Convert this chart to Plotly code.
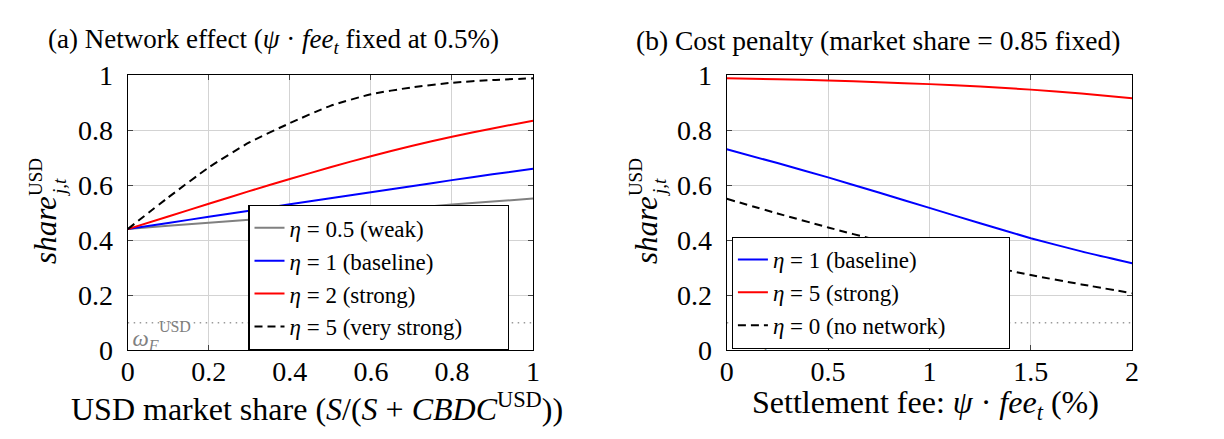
import plotly.graph_objects as go

# ---------------- data ----------------
market_share = [0.0, 0.1, 0.2, 0.3, 0.4, 0.5, 0.6, 0.7, 0.8, 0.9, 1.0]
share_eta05 = [0.440, 0.452, 0.463, 0.474, 0.485, 0.496, 0.507, 0.518, 0.529, 0.540, 0.551]
share_eta1 = [0.440, 0.462, 0.485, 0.507, 0.530, 0.552, 0.574, 0.596, 0.618, 0.639, 0.659]
share_eta2 = [0.440, 0.486, 0.532, 0.578, 0.622, 0.665, 0.705, 0.742, 0.776, 0.806, 0.834]
share_eta5 = [0.440, 0.555, 0.664, 0.755, 0.825, 0.888, 0.930, 0.955, 0.972, 0.982, 0.988]

fee = [0.0, 0.25, 0.5, 0.75, 1.0, 1.25, 1.5, 1.75, 2.0]
fee_eta1 = [0.730, 0.680, 0.628, 0.573, 0.517, 0.461, 0.407, 0.359, 0.316]
fee_eta5 = [0.988, 0.985, 0.980, 0.974, 0.967, 0.958, 0.947, 0.933, 0.916]
fee_eta0 = [0.550, 0.497, 0.446, 0.398, 0.355, 0.312, 0.273, 0.239, 0.207]

omega_F = 0.1

left_ticks = [0, 0.2, 0.4, 0.6, 0.8, 1]
left_ticktext = ["0", "0.2", "0.4", "0.6", "0.8", "1"]
right_ticks = [0, 0.5, 1, 1.5, 2]
right_ticktext = ["0", "0.5", "1", "1.5", "2"]
y_ticks = [0, 0.2, 0.4, 0.6, 0.8, 1]
y_ticktext = ["0", "0.2", "0.4", "0.6", "0.8", "1"]

# ---------------- styling ----------------
W, H = 1224, 439
FONT = "Liberation Serif, DejaVu Serif, serif"
GRID = "#d3d3d3"
GRAY = "#808080"
BLUE = "#0000ff"
RED = "#ff0000"
PAD_A = "\u00a0" * 7    # widens the legend boxes like the reference
PAD_B = "\u00a0" * 10

def px_x(p):
    return p / W

def px_y(p):
    return 1 - p / H

fig = go.Figure()

def line_trace(x, y, name, color, dash, xa, ya, legend, group, pad):
    return go.Scatter(
        x=x, y=y, mode="lines", name=name + pad,
        line=dict(color=color, width=2, dash=dash, shape="spline", smoothing=0.6),
        xaxis=xa, yaxis=ya, legend=legend, legendgroup=group,
        hoverinfo="skip",
    )

DOT = dict(color="#9a9a9a", width=1.5, dash="1.5px,4.5px")
# dotted omega_F lines
fig.add_trace(go.Scatter(x=[market_share[0], market_share[-1]], y=[omega_F, omega_F], mode="lines",
                         line=DOT, xaxis="x", yaxis="y", showlegend=False, hoverinfo="skip"))
fig.add_trace(go.Scatter(x=[fee[0], fee[-1]], y=[omega_F, omega_F], mode="lines",
                         line=DOT, xaxis="x2", yaxis="y2", showlegend=False, hoverinfo="skip"))

# omega_F labels (omega with subscript F, superscript USD stacked)
def omega_traces(xa, ya, x0, y0, dx_sup, dy_sup):
    return [
        go.Scatter(x=[x0], y=[y0], mode="text", text=["<i>ω</i><sub><i>F</i></sub>"],
                   textposition="middle right",
                   textfont=dict(family=FONT, size=23, color=GRAY),
                   xaxis=xa, yaxis=ya, showlegend=False, hoverinfo="skip"),
        go.Scatter(x=[x0 + dx_sup], y=[y0 + dy_sup], mode="text", text=["USD"],
                   textposition="middle right",
                   textfont=dict(family=FONT, size=16, color=GRAY),
                   xaxis=xa, yaxis=ya, showlegend=False, hoverinfo="skip"),
    ]

for t in omega_traces("x", "y", 0.012, 0.035, 0.065, 0.045):
    fig.add_trace(t)
for t in omega_traces("x2", "y2", 0.1, 0.03, 0.13, 0.045):
    fig.add_trace(t)

# panel (a)
fig.add_trace(line_trace(market_share, share_eta05, "<i>η</i> = 0.5 (weak)", GRAY, "solid", "x", "y", "legend", "a1", PAD_A))
fig.add_trace(line_trace(market_share, share_eta1, "<i>η</i> = 1 (baseline)", BLUE, "solid", "x", "y", "legend", "a2", PAD_A))
fig.add_trace(line_trace(market_share, share_eta2, "<i>η</i> = 2 (strong)", RED, "solid", "x", "y", "legend", "a3", PAD_A))
fig.add_trace(line_trace(market_share, share_eta5, "<i>η</i> = 5 (very strong)", "black", "8px,5px", "x", "y", "legend", "a4", PAD_A))

# panel (b)
fig.add_trace(line_trace(fee, fee_eta1, "<i>η</i> = 1 (baseline)", BLUE, "solid", "x2", "y2", "legend2", "b1", PAD_B))
fig.add_trace(line_trace(fee, fee_eta5, "<i>η</i> = 5 (strong)", RED, "solid", "x2", "y2", "legend2", "b2", PAD_B))
fig.add_trace(line_trace(fee, fee_eta0, "<i>η</i> = 0 (no network)", "black", "8px,5px", "x2", "y2", "legend2", "b3", PAD_B))

axis_common = dict(
    showgrid=True, gridcolor=GRID, gridwidth=1,
    showline=True, linecolor="black", linewidth=1.2, mirror="allticks",
    ticks="inside", ticklen=5, tickcolor="#444444", tickwidth=1,
    zeroline=False, tickfont=dict(family=FONT, size=28, color="black"),
    fixedrange=True,
)

y_dom = [px_y(352), px_y(56)]
LEG = dict(xanchor="left", yanchor="top", bgcolor="white", bordercolor="black", borderwidth=1.2,
           font=dict(family=FONT, size=23, color="black"), tracegroupgap=0, traceorder="normal")
fig.update_layout(
    width=W, height=H,
    margin=dict(l=0, r=0, t=0, b=0),
    paper_bgcolor="white", plot_bgcolor="white",
    font=dict(family=FONT, color="black"),
    xaxis=dict(domain=[px_x(114), px_x(524)], range=[0, 1], anchor="y",
               tickvals=left_ticks, ticktext=left_ticktext, ticklabelstandoff=-4, **axis_common),
    yaxis=dict(domain=y_dom, range=[0, 1], anchor="x",
               tickvals=y_ticks, ticktext=y_ticktext, ticklabelstandoff=8, **axis_common),
    xaxis2=dict(domain=[px_x(720), px_x(1130)], range=[0, 2], anchor="y2",
                tickvals=right_ticks, ticktext=right_ticktext, ticklabelstandoff=-4, **axis_common),
    yaxis2=dict(domain=y_dom, range=[0, 1], anchor="x2",
                tickvals=y_ticks, ticktext=y_ticktext, ticklabelstandoff=8, **axis_common),
    legend=dict(x=px_x(236), y=px_y(196), **LEG),
    legend2=dict(x=px_x(725), y=px_y(230), **LEG),
    showlegend=True,
)

def ann(text, x, y, size, angle=0):
    return dict(text=text, x=px_x(x), y=px_y(y), xref="paper", yref="paper", showarrow=False,
                textangle=angle, xanchor="center", yanchor="middle",
                font=dict(family=FONT, size=size, color="black"))

annotations = [
    ann("(a) Network effect (<i>ψ</i> · <i>fee<sub>t</sub></i> fixed at 0.5%)", 261, 19, 27),
    ann("(b) Cost penalty (market share = 0.85 fixed)", 873, 19, 27.5),
    ann("USD market share (<i>S</i>/(<i>S</i> + <i>CBDC</i><sup>USD</sup>))", 305, 413, 32),
    ann("Settlement fee: <i>ψ</i> · <i>fee<sub>t</sub></i> (%)", 921, 411, 32),
    # y titles: share with stacked USD / j,t
    ann("<i>share</i>", 31, 223, 31, -90),
    ann("USD", 21, 166, 19, -90),
    ann("<i>j,t</i>", 45, 177, 19, -90),
    ann("<i>share</i>", 639, 223, 31, -90),
    ann("USD", 627, 166, 19, -90),
    ann("<i>j,t</i>", 652, 177, 19, -90),
]
fig.update_layout(annotations=annotations)

fig.write_html("out.html")
